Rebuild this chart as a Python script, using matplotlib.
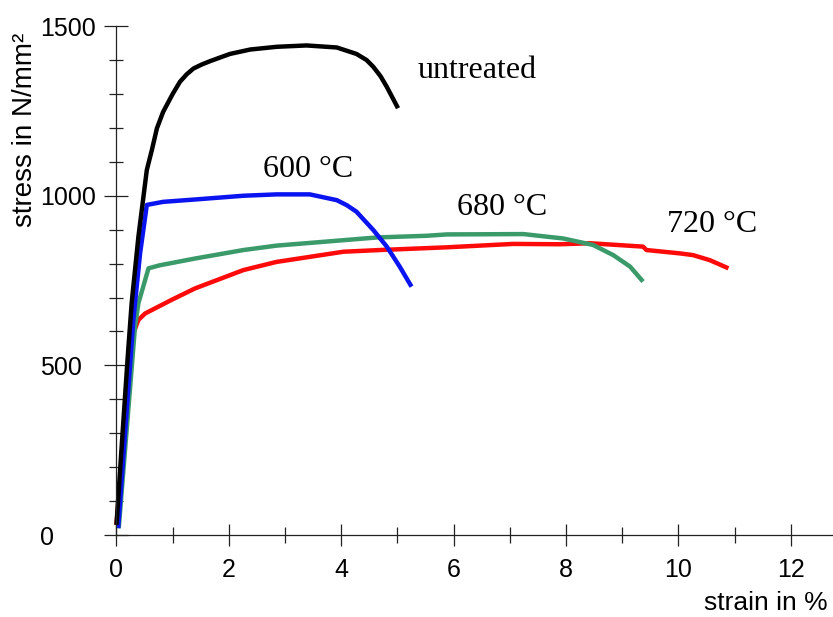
import matplotlib
matplotlib.use("Agg")
import matplotlib.pyplot as plt
from matplotlib.ticker import MultipleLocator, FixedLocator

# ---- data ----
untreated_strain = [0.0, 0.10, 0.20, 0.27, 0.39, 0.54, 0.63, 0.72, 0.83, 1.00, 1.13, 1.25, 1.37,
                    1.52, 1.67, 2.02, 2.38, 2.85, 3.38, 3.92, 4.27, 4.45, 4.57, 4.70, 4.81, 5.01]
untreated_stress = [30, 280, 525, 683, 879, 1076, 1135, 1199, 1247, 1300, 1336, 1358, 1375,
                    1387, 1397, 1418, 1431, 1439, 1443, 1437, 1418, 1400, 1380, 1352, 1321, 1258]

t600_strain = [0.03, 0.30, 0.36, 0.42, 0.54, 0.83, 1.40, 2.26, 2.85, 3.44, 3.92, 4.10, 4.27,
               4.57, 4.81, 5.04, 5.25]
t600_stress = [20, 634, 732, 830, 973, 982, 989, 1000, 1004, 1004, 987, 972, 953, 899, 850,
               791, 732]

t680_strain = [0.04, 0.33, 0.39, 0.57, 0.77, 1.40, 2.26, 2.85, 4.04, 4.63, 5.52, 5.88, 7.24,
               7.95, 8.48, 8.84, 9.14, 9.37]
t680_stress = [20, 614, 683, 786, 795, 815, 840, 853, 869, 877, 882, 886, 887, 874, 855, 825,
               791, 747]

t720_strain = [0.0, 0.24, 0.30, 0.39, 0.51, 0.98, 1.40, 2.26, 2.85, 4.04, 4.69, 5.88, 7.06,
               7.89, 8.43, 9.37, 9.43, 10.03, 10.26, 10.56, 10.89]
t720_stress = [30, 516, 594, 634, 653, 693, 727, 781, 805, 835, 840, 848, 858, 857, 860, 850,
               840, 830, 825, 810, 786]

labels = ["untreated", "600 °C", "680 °C", "720 °C"]
label_pos = [(5.365, 1347), (2.61, 1055), (6.06, 943), (9.80, 893)]
colors = ["#000000", "#0a14f0", "#3a9a6a", "#ff0a0a"]

x_major = [0, 2, 4, 6, 8, 10, 12]
y_major = [0, 500, 1000, 1500]

# ---- figure ----
fig = plt.figure(figsize=(8.33, 6.17), dpi=100)
ax = fig.add_axes([104 / 833, 1 - 546 / 617, (833 - 104) / 833, (546 - 20) / 617])
ax.set_xlim(-0.222, 12.75)
ax.set_ylim(-32.4, 1518)

series = [(untreated_strain, untreated_stress), (t600_strain, t600_stress),
          (t680_strain, t680_stress), (t720_strain, t720_stress)]
for (xs, ys), c in zip(series[::-1], colors[::-1]):
    ax.plot(xs, ys, color=c, lw=3.2, solid_capstyle="butt", solid_joinstyle="round")

for lab, (lx, ly) in zip(labels, label_pos):
    ax.text(lx, ly, lab, family="Liberation Serif", fontsize=23, ha="left", va="baseline")

# spines
for s in ["top", "right"]:
    ax.spines[s].set_visible(False)
ax.spines["left"].set_position(("data", 0))
ax.spines["bottom"].set_position(("data", 0))
ax.spines["left"].set_bounds(0, 1500)
ax.spines["bottom"].set_bounds(0, 12.75)
for s in ["left", "bottom"]:
    ax.spines[s].set_color("#222222")
    ax.spines[s].set_linewidth(0.9)

ax.xaxis.set_major_locator(FixedLocator(x_major))
ax.xaxis.set_minor_locator(MultipleLocator(1))
ax.yaxis.set_major_locator(FixedLocator(y_major))
ax.yaxis.set_minor_locator(MultipleLocator(100))

ax.tick_params(axis="both", which="both", direction="inout", width=0.9, color="#222222",
               labelsize=18)
ax.tick_params(axis="y", which="major", length=17, pad=46.5)
ax.tick_params(axis="y", which="minor", length=10)
ax.tick_params(axis="x", which="major", length=16, pad=8.5)
ax.tick_params(axis="x", which="minor", length=11)
for lbl in ax.get_xticklabels() + ax.get_yticklabels():
    lbl.set_family("Liberation Sans")
plt.setp(ax.get_yticklabels(), ha="left")

ax.set_xlabel("strain in %", family="Liberation Sans", fontsize=19, ha="right", va="baseline")
ax.xaxis.set_label_coords((828 - 104) / 729, (546 - 610) / 526)
ax.set_ylabel("stress in N/mm²", family="Liberation Sans", fontsize=20, va="center")
ax.yaxis.set_label_coords((25 - 104) / 729, (546 - 130) / 526)

fig.savefig("out.png", dpi=100)
